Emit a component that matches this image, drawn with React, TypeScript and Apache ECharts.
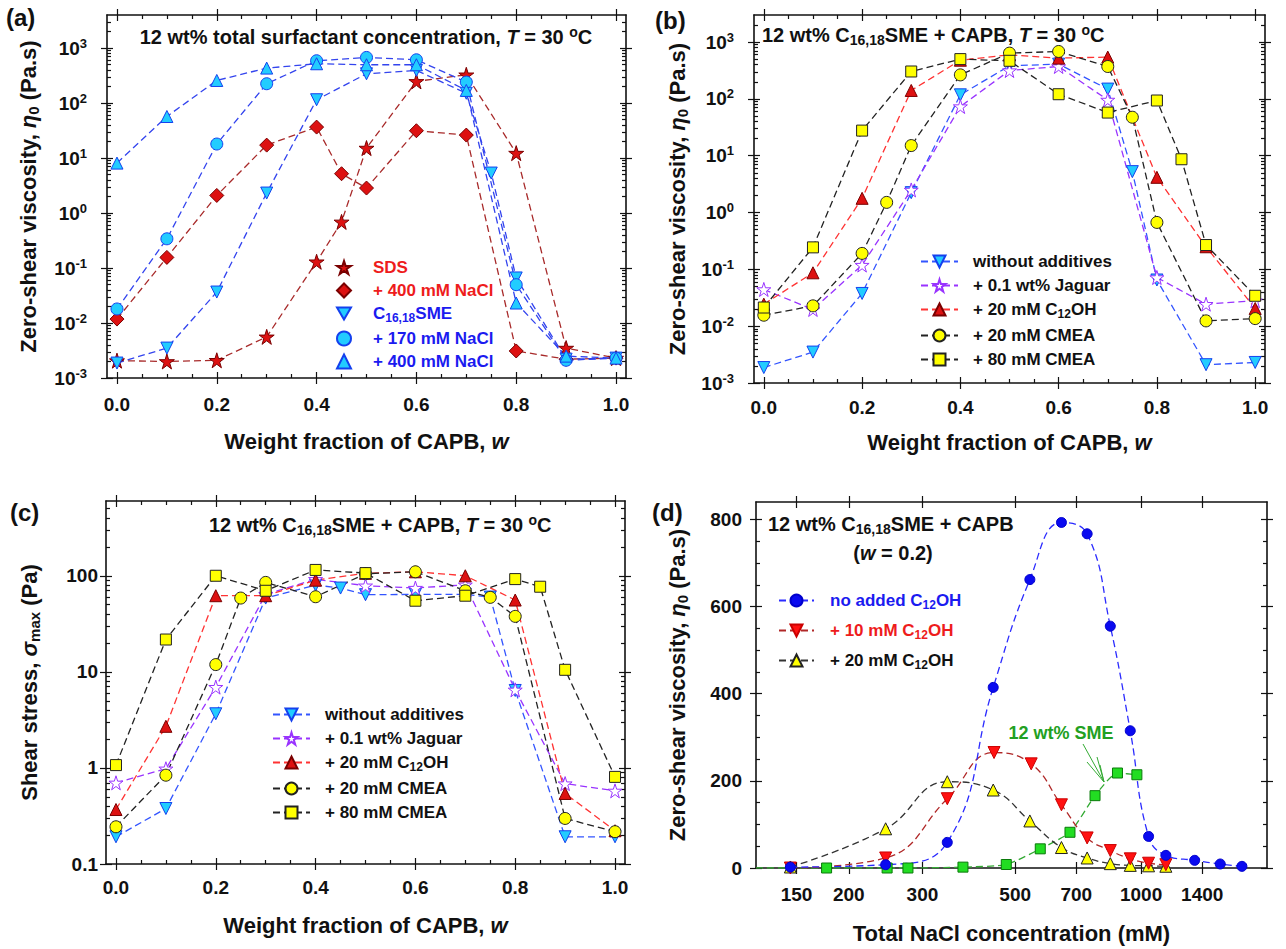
import React, { useEffect, useRef } from 'react';
import * as echarts from 'echarts';

const FONT = '"Liberation Sans", Arial, Helvetica, sans-serif';
const STAR = 'path://M50,2L61.2,36.2L97.5,36.2L68.2,57.4L79.4,91.6L50,70.4L20.6,91.6L31.8,57.4L2.5,36.2L38.8,36.2Z';
const DOWN = 'path://M0,0L100,0L50,87Z';

// ---------- Panel (a): zero-shear viscosity vs w ----------
const aW_SDS = [0, 0.1, 0.2, 0.3, 0.4, 0.45, 0.5, 0.6, 0.7, 0.8, 0.9, 1.0];
const aSDS = [0.00207, 0.002, 0.0021, 0.0056, 0.13, 0.69, 15.2, 248, 327, 12.3, 0.0035, 0.0023];
const aSDS400 = [0.0118, 0.156, 2.09, 17.2, 36.6, 5.19, 2.85, 31.4, 26.2, 0.0031, 0.0022, 0.0023];
const aW_SME = [0, 0.1, 0.2, 0.3, 0.4, 0.5, 0.6, 0.7, 0.75, 0.8, 0.9, 1.0];
const aSME = [0.00187, 0.0035, 0.0366, 2.31, 115, 341, 393, 151, 5.34, 0.066, 0.0022, 0.0023];
const aW_SMEsalt = [0, 0.1, 0.2, 0.3, 0.4, 0.5, 0.6, 0.7, 0.8, 0.9, 1.0];
const aSME170 = [0.018, 0.34, 18, 225, 589, 676, 613, 241, 0.0498, 0.0021, 0.0023];
const aSME400 = [8.1, 57, 258, 433, 519, 498, 498, 170, 0.0231, 0.0025, 0.0023];

// ---------- Panel (b): zero-shear viscosity with additives ----------
const bW_none = [0, 0.1, 0.2, 0.3, 0.4, 0.5, 0.6, 0.7, 0.75, 0.8, 0.9, 1.0];
const bNone = [0.00187, 0.0035, 0.0377, 2.24, 118, 383, 409, 149, 5.25, 0.065, 0.0021, 0.0023];
const bW_jag = [0, 0.1, 0.2, 0.3, 0.4, 0.5, 0.6, 0.7, 0.8, 0.9, 1.0];
const bJaguar = [0.0443, 0.0197, 0.119, 2.5, 73.5, 316, 372, 96, 0.072, 0.0244, 0.028];
const bW_c12 = [0, 0.1, 0.2, 0.3, 0.4, 0.5, 0.6, 0.7, 0.8, 0.9, 1.0];
const bC12 = [0.0244, 0.087, 1.78, 141, 480, 599, 523, 545, 4.17, 0.25, 0.0205];
const bW_cm20 = [0, 0.1, 0.2, 0.25, 0.3, 0.4, 0.5, 0.6, 0.7, 0.75, 0.8, 0.9, 1.0];
const bCMEA20 = [0.0156, 0.0228, 0.191, 1.51, 15.1, 265, 640, 684, 372, 47.6, 0.67, 0.0124, 0.0136];
const bW_cm80 = [0, 0.1, 0.2, 0.3, 0.4, 0.5, 0.6, 0.7, 0.8, 0.85, 0.9, 1.0];
const bCMEA80 = [0.0213, 0.244, 27.7, 304, 502, 469, 121, 57.5, 93.8, 8.67, 0.268, 0.0343];

// ---------- Panel (c): max shear stress ----------
const cW_none = [0, 0.1, 0.2, 0.3, 0.4, 0.45, 0.5, 0.6, 0.7, 0.75, 0.8, 0.9, 1.0];
const cNone = [0.192, 0.378, 3.66, 58.6, 80, 74.5, 63.5, 64, 64, 60, 6.4, 0.192, 0.192];
const cW_jag = [0, 0.1, 0.2, 0.3, 0.4, 0.5, 0.6, 0.7, 0.8, 0.9, 1.0];
const cJaguar = [0.7, 0.98, 6.93, 64, 92, 78.8, 74.5, 80.6, 6.5, 0.687, 0.577];
const cW_c12 = [0, 0.1, 0.2, 0.3, 0.4, 0.5, 0.6, 0.7, 0.8, 0.9, 1.0];
const cC12 = [0.369, 2.71, 62, 62, 90, 106, 110, 100, 55.9, 0.542, 0.222];
const cW_cm20 = [0, 0.1, 0.2, 0.25, 0.3, 0.4, 0.5, 0.6, 0.7, 0.75, 0.8, 0.9, 1.0];
const cCMEA20 = [0.244, 0.84, 11.9, 58.6, 85.3, 60.5, 105, 110, 69.8, 59.6, 37.8, 0.298, 0.217];
const cW_cm80 = [0, 0.1, 0.2, 0.3, 0.4, 0.5, 0.6, 0.7, 0.8, 0.85, 0.9, 1.0];
const cCMEA80 = [1.07, 21.7, 100, 69.8, 115, 106.6, 55, 62, 92.3, 76.9, 10.5, 0.807];

// ---------- Panel (d): viscosity vs NaCl ----------
const dNaCl_blue = [145, 245, 344, 443, 542, 645, 743, 844, 942, 1042, 1146, 1343, 1546, 1742];
const dBlue = [2, 7.6, 58.8, 414.5, 662, 793, 767, 555, 315, 72.5, 29, 17.6, 9.2, 3.8];
const dNaCl_red = [145, 245, 344, 445, 546, 645, 743, 844, 942, 1042, 1146];
const dRed = [0, 23, 159, 265, 239, 145, 69, 40, 21, 11, 7.6];
const dNaCl_black = [145, 245, 344, 443, 542, 645, 743, 844, 942, 1042, 1146];
const dBlack = [2.3, 90, 198, 179, 108, 47, 23, 10, 6, 5, 4];
const dNaCl_green = [120, 177, 247, 277, 375, 476, 574, 676, 776, 878, 977];
const dGreen = [0, 0, 0, 0, 2, 8, 44, 82, 166, 218, 214];

// ---------- ticks ----------
const wMajors = [0, 0.2, 0.4, 0.6, 0.8, 1.0];
const wMinors = [0.05, 0.1, 0.15, 0.25, 0.3, 0.35, 0.45, 0.5, 0.55, 0.65, 0.7, 0.75, 0.85, 0.9, 0.95];
const etaMajors = [0.001, 0.01, 0.1, 1, 10, 100, 1000];
const sigmaMajors = [0.1, 1, 10, 100];
const naclTicks = [150, 200, 300, 500, 700, 1000, 1400];
const dYMajors = [0, 200, 400, 600, 800];
const dYMinors = [50, 100, 150, 250, 300, 350, 450, 500, 550, 650, 700, 750];

function logMinors(lo: number, hi: number, max: number) {
  const r: number[] = [];
  for (let e = lo; e <= hi; e++) {
    for (let m = 2; m <= 9; m++) {
      const v = +(m * Math.pow(10, e)).toPrecision(3);
      if (v < max) r.push(v);
    }
  }
  return r;
}

function pairs(xs: number[], ys: number[]) {
  return xs.map((x, i) => [x, ys[i]]);
}

function RICH(size: number) {
  const s = Math.round(size * 0.68);
  return {
    b: { fontSize: size, fontWeight: 'bold', fontFamily: FONT, lineHeight: size + 4 },
    i: { fontSize: size, fontWeight: 'bold', fontStyle: 'italic', fontFamily: FONT, lineHeight: size + 4 },
    sub: { fontSize: s, fontWeight: 'bold', fontFamily: FONT, lineHeight: s, verticalAlign: 'bottom' },
    sup: { fontSize: s, fontWeight: 'bold', fontFamily: FONT, lineHeight: s, verticalAlign: 'top' },
  };
}

const INK = '#111';
const TICK = { color: INK, width: 1.2 };

function axisGroup(dim: 'x' | 'y', gridIndex: number, scale: any, majors: number[], minors: number[], label: any, nameCfg: any) {
  const p0 = dim === 'x' ? 'bottom' : 'left';
  const p1 = dim === 'x' ? 'top' : 'right';
  const base = { gridIndex, ...scale, splitLine: { show: false }, minorTick: { show: false }, silent: true, axisPointer: { show: false } };
  const tick = (vals: number[], len: number, inside: boolean) => ({ show: vals.length > 0, customValues: vals, length: len, inside, lineStyle: TICK });
  const line = (show: boolean) => ({ show, onZero: false, lineStyle: { color: INK, width: 1.6 } });
  const noLabel = { show: false };
  return [
    { ...base, position: p0, axisLine: line(true), axisTick: tick(majors, 6, false), axisLabel: { ...label, customValues: majors }, ...nameCfg },
    { ...base, position: p0, axisLine: line(false), axisTick: tick(majors, 6, true), axisLabel: noLabel },
    { ...base, position: p0, axisLine: line(false), axisTick: tick(minors, 4, true), axisLabel: noLabel },
    { ...base, position: p1, axisLine: line(true), axisTick: tick(majors, 6, false), axisLabel: noLabel },
    { ...base, position: p1, axisLine: line(false), axisTick: tick(majors, 6, true), axisLabel: noLabel },
    { ...base, position: p1, axisLine: line(false), axisTick: tick(minors, 4, true), axisLabel: noLabel },
  ];
}

const tickLabel = (margin: number) => ({ show: true, margin, fontSize: 19, fontWeight: 'bold', fontFamily: FONT, color: INK });
const pow10Label = (margin: number) => ({
  ...tickLabel(margin),
  formatter: (v: number) => `{b|10}{sup|${Math.round(Math.log10(v))}}`,
  rich: {
    b: { fontSize: 19, fontWeight: 'bold', fontFamily: FONT, lineHeight: 23, color: INK },
    sup: { fontSize: 13, fontWeight: 'bold', fontFamily: FONT, lineHeight: 13, verticalAlign: 'top', color: INK },
  },
});
const axisName = (name: string, gap: number, rotate: boolean) => ({
  name,
  nameLocation: 'middle',
  nameGap: gap,
  nameRotate: rotate ? 90 : 0,
  nameTextStyle: { fontSize: 22, fontWeight: 'bold', fontFamily: FONT, color: INK, rich: RICH(22) },
});

const ETA_NAME = '{b|Zero-shear viscosity, }{i|η}{sub|0}{b| (Pa.s)}';
const W_NAME = '{b|Weight fraction of CAPB, }{i|w}';

const LABELS: Record<string, string> = {
  a1: '{b|SDS}',
  a2: '{b|+ 400 mM NaCl}',
  a3: '{b|C}{sub|16,18}{b|SME}',
  a4: '{b|+ 170 mM NaCl}',
  a5: '{b|+ 400 mM NaCl}',
  b1: '{b|without additives}',
  b2: '{b|+ 0.1 wt% Jaguar}',
  b3: '{b|+ 20 mM C}{sub|12}{b|OH}',
  b4: '{b|+ 20 mM CMEA}',
  b5: '{b|+ 80 mM CMEA}',
  c1: '{b|without additives}',
  c2: '{b|+ 0.1 wt% Jaguar}',
  c3: '{b|+ 20 mM C}{sub|12}{b|OH}',
  c4: '{b|+ 20 mM CMEA}',
  c5: '{b|+ 80 mM CMEA}',
  d1: '{b|no added C}{sub|12}{b|OH}',
  d2: '{b|+ 10 mM C}{sub|12}{b|OH}',
  d3: '{b|+ 20 mM C}{sub|12}{b|OH}',
};

function mk(name: string, g: number, xs: number[], ys: number[], symbol: string, size: number, fill: string, border: string, lineColor: string, extra: any = {}) {
  return {
    type: 'line',
    name,
    xAxisIndex: g * 6,
    yAxisIndex: g * 6,
    data: pairs(xs, ys),
    symbol,
    symbolSize: size,
    showAllSymbol: true,
    itemStyle: { color: fill, borderColor: border, borderWidth: 1 },
    lineStyle: { color: lineColor, width: 1.3, type: [7, 4] },
    emphasis: { disabled: true },
    ...extra,
  };
}

function buildOption() {
  const grids = [
    { left: 107, top: 15, width: 519, height: 363 },
    { left: 754, top: 15, width: 511, height: 368 },
    { left: 106, top: 501, width: 519, height: 363 },
    { left: 756, top: 502, width: 511, height: 366 },
  ].map((g) => ({ ...g, outerBoundsMode: 'none', containLabel: false }));

  const wScale = { type: 'value', min: -0.02, max: 1.02 };
  const xAxis = [
    ...axisGroup('x', 0, wScale, wMajors, wMinors, { ...tickLabel(17), formatter: (v: number) => v.toFixed(1) }, axisName(W_NAME, 50, false)),
    ...axisGroup('x', 1, wScale, wMajors, wMinors, { ...tickLabel(15), formatter: (v: number) => v.toFixed(1) }, axisName(W_NAME, 46, false)),
    ...axisGroup('x', 2, wScale, wMajors, wMinors, { ...tickLabel(14), formatter: (v: number) => v.toFixed(1) }, axisName(W_NAME, 48, false)),
    ...axisGroup('x', 3, { type: 'log', logBase: 10, min: 120, max: 2000 }, naclTicks, [], { ...tickLabel(17), formatter: (v: number) => String(Math.round(v)) }, axisName('{b|Total NaCl concentration (mM)}', 52, false)),
  ];
  const yAxis = [
    ...axisGroup('y', 0, { type: 'log', logBase: 10, min: 0.001, max: 4000 }, etaMajors, logMinors(-3, 3, 4000), pow10Label(20), axisName(ETA_NAME, 66, true)),
    ...axisGroup('y', 1, { type: 'log', logBase: 10, min: 0.001, max: 3000 }, etaMajors, logMinors(-3, 3, 3000), pow10Label(20), axisName(ETA_NAME, 64, true)),
    ...axisGroup('y', 2, { type: 'log', logBase: 10, min: 0.1, max: 600 }, sigmaMajors, logMinors(-1, 2, 600), { ...tickLabel(8), formatter: (v: number) => String(v) }, axisName('{b|Shear stress, }{i|σ}{sub|max}{b| (Pa)}', 64, true)),
    ...axisGroup('y', 3, { type: 'value', min: 0, max: 840 }, dYMajors, dYMinors, { ...tickLabel(14), formatter: (v: number) => String(v) }, axisName(ETA_NAME, 66, true)),
  ];

  const RED = '#dd1111', DARKRED = '#7a0000', BROWN = '#a82a2a';
  const CYAN = '#22ccff', BLUEB = '#1440ee', BLUEL = '#3344ee';
  const YEL = '#ffff00', BLK = '#222';
  const series: any[] = [
    mk('a1', 0, aW_SDS, aSDS, STAR, 15, RED, DARKRED, BROWN),
    mk('a2', 0, aW_SDS, aSDS400, 'diamond', 14, RED, DARKRED, BROWN),
    mk('a3', 0, aW_SME, aSME, DOWN, 12, CYAN, BLUEB, BLUEL),
    mk('a4', 0, aW_SMEsalt, aSME170, 'circle', 12, CYAN, BLUEB, BLUEL),
    mk('a5', 0, aW_SMEsalt, aSME400, 'triangle', 12, CYAN, BLUEB, BLUEL),

    mk('b1', 1, bW_none, bNone, DOWN, 12, CYAN, BLUEB, '#3355ff'),
    mk('b2', 1, bW_jag, bJaguar, STAR, 14, '#ffffff', '#9933ff', '#9933ff'),
    mk('b3', 1, bW_c12, bC12, 'triangle', 12, RED, DARKRED, '#ff3333'),
    mk('b4', 1, bW_cm20, bCMEA20, 'circle', 12, YEL, BLK, BLK),
    mk('b5', 1, bW_cm80, bCMEA80, 'rect', 11, YEL, BLK, BLK),

    mk('c1', 2, cW_none, cNone, DOWN, 12, CYAN, BLUEB, '#3355ff'),
    mk('c2', 2, cW_jag, cJaguar, STAR, 14, '#ffffff', '#9933ff', '#9933ff'),
    mk('c3', 2, cW_c12, cC12, 'triangle', 12, RED, DARKRED, '#ff3333'),
    mk('c4', 2, cW_cm20, cCMEA20, 'circle', 12, YEL, BLK, BLK),
    mk('c5', 2, cW_cm80, cCMEA80, 'rect', 11, YEL, BLK, BLK),

    mk('d4', 3, dNaCl_green, dGreen, 'rect', 10, '#22dd22', '#0a7a0a', '#33aa33', {
      smooth: 0.2,
      data: pairs(dNaCl_green, dGreen).map((p, i) => (i === 0 ? { value: p, symbol: 'none' } : p)),
    }),
    mk('d3', 3, dNaCl_black, dBlack, 'triangle', 12, YEL, BLK, '#333', { smooth: 0.45 }),
    mk('d2', 3, dNaCl_red, dRed, DOWN, 12, '#ff1111', '#cc0000', '#b02828', { smooth: 0.45 }),
    mk('d1', 3, dNaCl_blue, dBlue, 'circle', 10, '#0a0af0', '#0000cc', '#2b2bff', { smooth: 0.45 }),
  ];

  const legendBase = {
    orient: 'vertical',
    padding: 0,
    selectedMode: false,
    formatter: (n: string) => LABELS[n],
  };
  const legTxt = (pad: number) => ({ fontSize: 17, fontWeight: 'bold', fontFamily: FONT, color: INK, padding: [0, 0, 0, pad], rich: RICH(17) });
  const RTXT = '#ee1c1c', BTXT = '#1b1bf0';
  const legend = [
    {
      ...legendBase, left: 336, top: 259, itemWidth: 14, itemHeight: 14, itemGap: 6, textStyle: legTxt(17),
      data: [
        { name: 'a1', icon: STAR, textStyle: { color: RTXT } },
        { name: 'a2', icon: 'diamond', textStyle: { color: RTXT } },
        { name: 'a3', icon: DOWN, textStyle: { color: BTXT } },
        { name: 'a4', icon: 'circle', textStyle: { color: BTXT } },
        { name: 'a5', icon: 'triangle', textStyle: { color: BTXT } },
      ],
    },
    { ...legendBase, left: 920, top: 253, itemWidth: 37, itemHeight: 15, itemGap: 7, textStyle: legTxt(10), data: ['b1', 'b2', 'b3', 'b4', 'b5'] },
    { ...legendBase, left: 272, top: 706, itemWidth: 37, itemHeight: 15, itemGap: 7, textStyle: legTxt(10), data: ['c1', 'c2', 'c3', 'c4', 'c5'] },
    {
      ...legendBase, left: 778, top: 592, itemWidth: 35, itemHeight: 15, itemGap: 11, textStyle: legTxt(11),
      data: [
        { name: 'd1', textStyle: { color: BTXT } },
        { name: 'd2', textStyle: { color: RTXT } },
        { name: 'd3', textStyle: { color: INK } },
      ],
    },
  ];

  const txt = (x: number, y: number, text: string, align: string, size: number, fill = INK) => ({
    type: 'text', x, y, silent: true,
    style: { text, rich: RICH(size), fill, align, verticalAlign: 'middle', font: `bold ${size}px ${FONT}` },
  });
  const panelTitle = '{b|12 wt% C}{sub|16,18}{b|SME + CAPB, }{i|T}{b| = 30 }{sup|o}{b|C}';
  const GREEN = '#22a022';
  const arrowTip = [1104, 782];
  const arrowTails = [[1083, 744], [1087, 762], [1097, 757], [1100, 765]];
  const graphic: any[] = [
    txt(6, 17, '{b|(a)}', 'left', 24),
    txt(655, 20, '{b|(b)}', 'left', 24),
    txt(10, 512, '{b|(c)}', 'left', 24),
    txt(652, 512, '{b|(d)}', 'left', 24),
    txt(366, 37, '{b|12 wt% total surfactant concentration, }{i|T}{b| = 30 }{sup|o}{b|C}', 'center', 20),
    txt(762, 35, panelTitle, 'left', 20),
    txt(209, 525, panelTitle, 'left', 20),
    txt(768, 524, '{b|12 wt% C}{sub|16,18}{b|SME + CAPB}', 'left', 20),
    txt(893, 553, '{b|(}{i|w}{b| = 0.2)}', 'center', 20),
    txt(1061, 733, '{b|12 wt% SME}', 'center', 18, GREEN),
    ...arrowTails.map((t) => ({
      type: 'line', silent: true,
      shape: { x1: t[0], y1: t[1], x2: arrowTip[0], y2: arrowTip[1] },
      style: { stroke: '#33aa33', lineWidth: 1 },
    })),
  ];

  return {
    animation: false,
    backgroundColor: '#ffffff',
    textStyle: { fontFamily: FONT },
    grid: grids,
    xAxis,
    yAxis,
    legend,
    series,
    graphic,
  };
}

export default function App() {
  const ref = useRef<HTMLDivElement>(null);
  useEffect(() => {
    document.body.style.margin = '0';
    if (!ref.current) return;
    const chart = echarts.init(ref.current, undefined, { renderer: 'svg' });
    chart.setOption(buildOption() as any);
    return () => chart.dispose();
  }, []);
  return <div ref={ref} style={{ width: 1286, height: 949, background: '#fff' }} />;
}
